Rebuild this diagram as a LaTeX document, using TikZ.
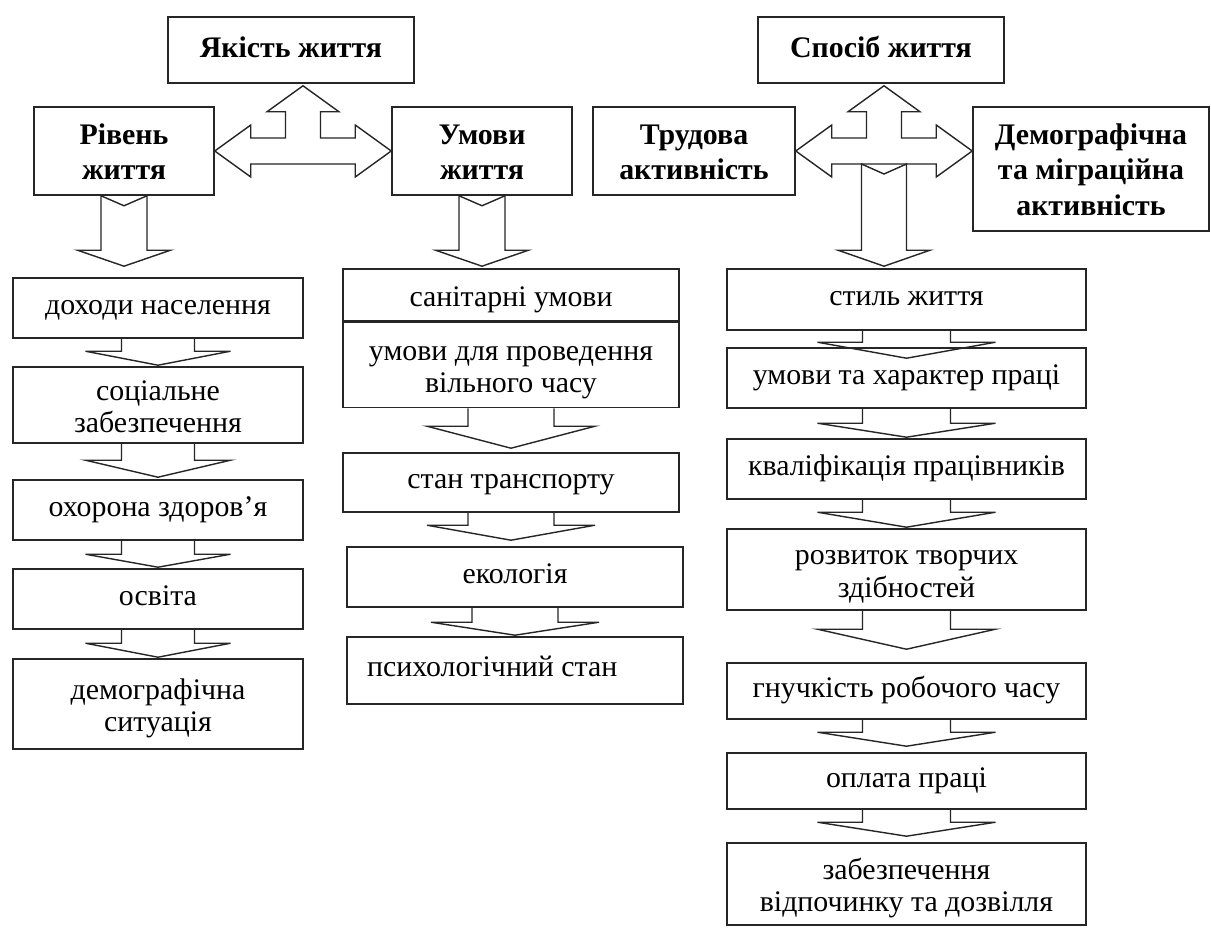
\documentclass[tikz,border=0pt]{standalone}
\usepackage{fontspec}
\setmainfont{Liberation Serif}
\usetikzlibrary{calc,positioning}

% chevron arrow between two boxes of a column:
% #1 from, #2 to, #3 shaft half width, #4 head half width, #5 head height, #6 tip shift
\newcommand{\chevarrow}[6]{%
  \coordinate (tip) at ($(#1.south |- #2.north)+(0,#6)$);
  \draw[blk] ($(#1.south)+(-#3,0)$) -- ($(tip)+(-#3,-#5)$) -- ($(tip)+(-#4,-#5)$)
    -- (tip) -- ($(tip)+(#4,-#5)$) -- ($(tip)+(#3,-#5)$) -- ($(#1.south)+(#3,0)$);
}
% notched block arrow: #1 start, #2 to, #3 shaft half, #4 head half, #5 tip shift
\newcommand{\notcharrow}[5]{%
  \coordinate (tip) at ($(#1 |- #2.north)+(0,#5)$);
  \draw[blk] ($(#1)+(-#3,0)$) -- ($(#1)+(0,10)$) -- ($(#1)+(#3,0)$)
    -- ($(tip)+(#3,-16)$) -- ($(tip)+(#4,-16)$) -- (tip)
    -- ($(tip)+(-#4,-16)$) -- ($(tip)+(-#3,-16)$) -- cycle;
}
% double arrow with an arrow up: #1 left box, #2 top box, #3 right box, #4 foot name
\newcommand{\teearrow}[4]{%
  \coordinate (rt) at (#1.east -| #3.west);
  \coordinate (#4) at ($(#1.east)!0.5!(rt)+(0,13)$);
  \coordinate (up) at ($(#4 |- #2.south)+(0,2)$);
  \draw[blk] (#1.east) -- ($(#1.east)+(36,-26)$) -- ($(#1.east)+(36,-13)$)
    -- ($(#4)+(-17.5,-26)$) -- ($(up)+(-17.5,26)$) -- ($(up)+(-36,26)$) -- (up)
    -- ($(up)+(36,26)$) -- ($(up)+(17.5,26)$) -- ($(#4)+(17.5,-26)$)
    -- ($(rt)+(-36,-13)$) -- ($(rt)+(-36,-26)$) -- (rt) -- ($(rt)+(-36,26)$)
    -- ($(rt)+(-36,13)$) -- ($(#1.east)+(36,13)$) -- ($(#1.east)+(36,26)$) -- cycle;
}

\begin{document}
\begin{tikzpicture}[
    x=0.02cm, y=-0.02cm,
    topbox/.style={draw=black!85, line width=0.9pt, inner sep=0pt, align=flush center,
      font=\bfseries\fontsize{17}{20}\selectfont,
      execute at begin node=\strut, execute at end node=\strut},
    itembox/.style={draw=black!85, line width=0.9pt, inner sep=0pt, align=flush center,
      font=\fontsize{17}{18.5}\selectfont,
      execute at begin node=\strut, execute at end node=\strut},
    tall/.style={execute at begin node=\rule{0pt}{#1}\strut},
    tall/.default=\baselineskip,
    lcol/.style={itembox, minimum width=5.8cm, text width=5.8cm},
    mcol/.style={itembox, minimum width=6.72cm, text width=6.72cm},
    rcol/.style={itembox, minimum width=7.18cm, text width=7.18cm},
    blk/.style={draw=black!85, line width=0.8pt, line join=miter}
  ]
    \fill[white] (0,0) rectangle (1211,928);
    \useasboundingbox (0,0) rectangle (1211,928);

    % Top level
    \node[topbox, minimum width=4.92cm, text width=4.92cm, minimum height=1.32cm] (yakist) at (291,50) {Якість життя};
    \node[topbox, minimum width=4.92cm, text width=4.92cm, minimum height=1.32cm] (sposib) at (881,50) {Спосіб життя};
    \node[topbox, tall=18.5pt, minimum width=3.6cm, text width=3.6cm, minimum height=1.76cm] (riven) at (124,151) {Рівень\\життя};
    \node[topbox, tall=18.5pt, minimum width=3.6cm, text width=3.6cm, minimum height=1.76cm] (umovy) at (482,151) {Умови\\життя};
    \node[topbox, tall=18.5pt, minimum width=4.04cm, text width=4.04cm, minimum height=1.76cm] (trud) at (694,151) {Трудова\\активність};
    \node[topbox, tall=18.5pt, minimum width=4.72cm, text width=4.72cm, minimum height=2.48cm] (demo) at (1091,169) {Демографічна\\та міграційна\\активність};

    % Left column
    \node[lcol, minimum height=1.2cm] (dohody) at (158,308) {доходи населення};
    \node[lcol, tall, minimum height=1.52cm] (social) at (158,405) {соціальне\\забезпечення};
    \node[lcol, minimum height=1.2cm] (okhorona) at (158,510) {охорона здоров’я};
    \node[lcol, minimum height=1.2cm] (osvita) at (158,599) {освіта};
    \node[lcol, tall, minimum height=1.8cm] (demsit) at (158,704) {демографічна\\ситуація};

    % Middle column
    \node[mcol, tall, minimum height=1.04cm] (sanit) at (511,295) {санітарні умови};
    \node[mcol, tall, minimum height=1.7cm, below=0pt of sanit] (vilny) {умови для проведення\\вільного часу};
    \node[mcol, minimum height=1.18cm] (transport) at (511,482.5) {стан транспорту};
    \node[mcol, minimum height=1.2cm] (ekol) at (515,577) {екологія};
    \node[mcol, minimum height=1.34cm, align=flush left, inner xsep=0.4cm, text width=5.92cm] (psych) at (515,670.5) {психологічний стан};

    % Right column
    \node[rcol, minimum height=1.22cm] (styl) at (906.5,299.5) {стиль життя};
    \node[rcol, minimum height=1.2cm] (umpraci) at (906.5,378) {умови та характер праці};
    \node[rcol, minimum height=1.2cm] (kvalif) at (906.5,469) {кваліфікація працівників};
    \node[rcol, tall, minimum height=1.62cm] (rozvyt) at (906.5,569.5) {розвиток творчих\\здібностей};
    \node[rcol, minimum height=1.12cm] (gnuch) at (906.5,691) {гнучкість робочого часу};
    \node[rcol, minimum height=1.12cm] (oplata) at (906.5,781) {оплата праці};
    \node[rcol, tall, minimum height=1.64cm] (zabezp) at (906.5,884) {забезпечення\\відпочинку та дозвілля};

    % Block arrows at the top
    \teearrow{riven}{yakist}{umovy}{footL}
    \teearrow{trud}{sposib}{demo}{footR}
    \notcharrow{riven.south}{dohody}{23}{46.5}{-11}
    \notcharrow{umovy.south}{sanit}{23}{46.5}{-2}
    \notcharrow{footR}{styl}{22.5}{46}{-2}

    % Chevrons down the columns
    \chevarrow{dohody}{social}{36.5}{72.5}{14}{-1}
    \chevarrow{social}{okhorona}{36.5}{72.5}{17}{-2}
    \chevarrow{okhorona}{osvita}{36.5}{72.5}{13}{-1}
    \chevarrow{osvita}{demsit}{36.5}{72.5}{14}{-1}

    \chevarrow{vilny}{transport}{43}{84}{22}{-4}
    \chevarrow{transport}{ekol}{43}{84}{15}{-6}
    \chevarrow{ekol}{psych}{43}{84}{13}{-1}

    \chevarrow{styl}{umpraci}{44}{89}{16}{11}
    \chevarrow{umpraci}{kvalif}{44}{89}{14}{-1}
    \chevarrow{kvalif}{rozvyt}{44}{89}{15}{-1}
    \chevarrow{rozvyt}{gnuch}{44}{89}{20}{-13}
    \chevarrow{gnuch}{oplata}{44}{89}{14}{-6}
    \chevarrow{oplata}{zabezp}{44}{89}{14}{-6}

  \end{tikzpicture}
\end{document}
